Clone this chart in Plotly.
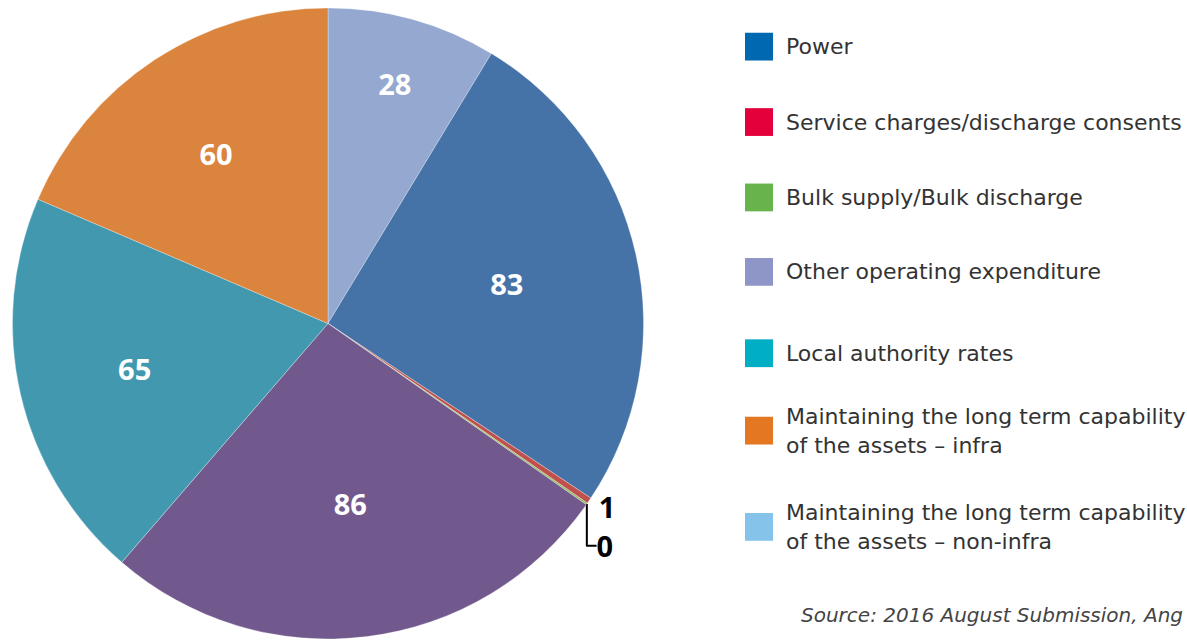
import plotly.graph_objects as go

# Data (legend order)
categories = [
    "Power",
    "Service charges/discharge consents",
    "Bulk supply/Bulk discharge",
    "Other operating expenditure",
    "Local authority rates",
    "Maintaining the long term capability<br>of the assets \u2013 infra",
    "Maintaining the long term capability<br>of the assets \u2013 non-infra",
]
values = [83, 1, 0.3, 86, 65, 60, 28]
value_labels = ["83", "1", "0", "86", "65", "60", "28"]

legend_colors = ["#0067B1", "#E4003B", "#69B34C", "#8E96C8", "#00AFC3", "#E37722", "#85C3EA"]
slice_colors = ["#4573A7", "#C0504D", "#8BBB5A", "#71598E", "#4198AF", "#DB843D", "#94A8D0"]

# clockwise order of slices starting at 12 o'clock
pie_order = [6, 0, 1, 2, 3, 4, 5]

W, H = 1187, 644
fig = go.Figure()

text_colors = ["white" if values[i] >= 5 else "black" for i in pie_order]
fig.add_trace(go.Pie(
    labels=[categories[i] for i in pie_order],
    values=[values[i] for i in pie_order],
    text=[value_labels[i] for i in pie_order],
    textinfo="text",
    textposition=["inside" if values[i] >= 5 else "outside" for i in pie_order],
    insidetextorientation="horizontal",
    textfont=dict(family="Open Sans", size=29, color=text_colors, weight="bold"),
    marker=dict(colors=[slice_colors[i] for i in pie_order],
                line=dict(color="rgba(255,255,255,0.5)", width=0.6)),
    sort=False,
    direction="clockwise",
    rotation=0,
    showlegend=False,
    hoverinfo="label+value",
    domain=dict(x=[10 / W, 646 / W], y=[0, 636 / H]),
))

# Manual legend
legend_y = [47, 123, 199, 274, 356, 434, 531]
for i, cat in enumerate(categories):
    yc = 1 - legend_y[i] / H
    fig.add_shape(type="rect", xref="paper", yref="paper",
                  x0=745 / W, x1=773 / W, y0=yc - 14 / H, y1=yc + 14 / H,
                  fillcolor=legend_colors[i], line=dict(width=0))
    fig.add_annotation(xref="paper", yref="paper", x=784 / W, y=yc,
                       xanchor="left", yanchor="middle", align="left",
                       text=cat, showarrow=False,
                       font=dict(family="DejaVu Sans", size=22, color="#333333"))

fig.add_annotation(xref="paper", yref="paper", x=1185 / W, y=1 - 620 / H,
                   xanchor="right", yanchor="middle",
                   text="<i>Source: 2016 August Submission, Ang</i>", showarrow=False,
                   font=dict(family="DejaVu Sans", size=20, color="#444444"))

fig.update_layout(
    width=W, height=H,
    margin=dict(l=0, r=0, t=0, b=0),
    paper_bgcolor="white", plot_bgcolor="white",
)

fig.write_html("out.html", config={"displayModeBar": False},
               post_script="document.body.style.margin='0';document.body.style.padding='0';")
